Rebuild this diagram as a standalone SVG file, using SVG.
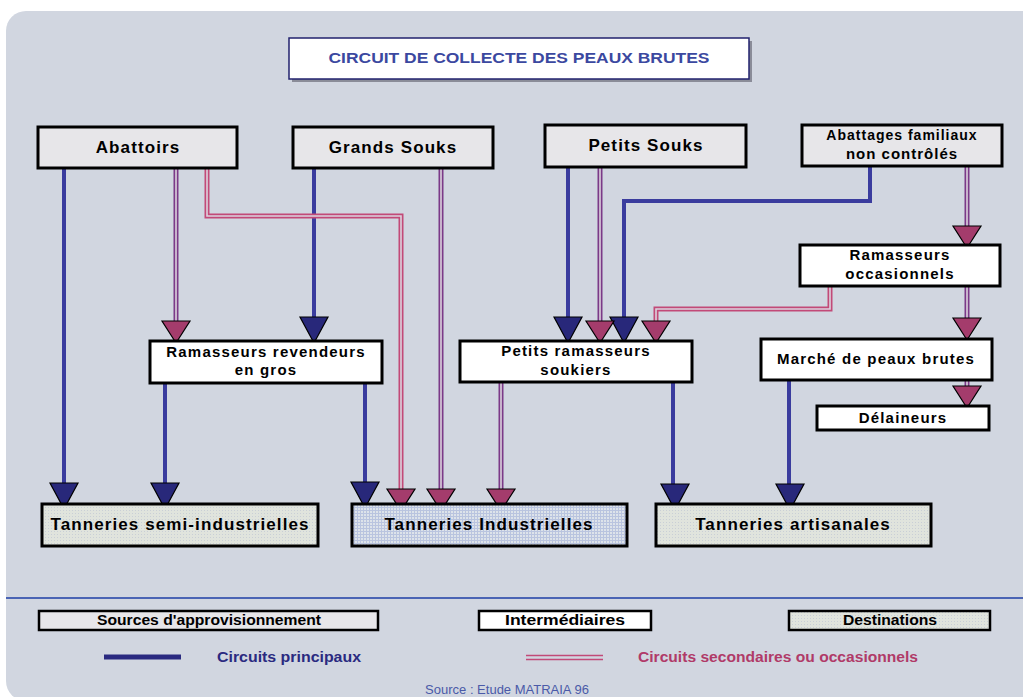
<svg xmlns="http://www.w3.org/2000/svg" width="1023" height="697" viewBox="0 0 1023 697">
<style>
.src{fill:#e7e6e9;stroke:#000;stroke-width:3}
.mid{fill:#fff;stroke:#000;stroke-width:3}
.dst{stroke:#000;stroke-width:3}
.t{font-family:"Liberation Sans",Arial,sans-serif;font-weight:bold;fill:#000;text-anchor:middle}
.big{font-size:17px;letter-spacing:1.1px}
.med{font-size:15px;letter-spacing:1.2px}
.blue{fill:none;stroke:#3a3c9e;stroke-width:4}
.dbl-o{fill:none;stroke-width:5;stroke-linejoin:miter}
.purple{stroke:#7b3a88}
.pink{stroke:#c24a78}
.dbl-i{fill:none;stroke:#dcd3de;stroke-width:1.6;stroke-linejoin:miter}
.ab{fill:#28287a;stroke:#000;stroke-width:1.2}
.ap{fill:#a43c6c;stroke:#000;stroke-width:1.2}
.leg{font-family:"Liberation Sans",Arial,sans-serif;font-weight:bold;font-size:14px;text-anchor:middle}
</style>
<defs>
<pattern id="dots" width="3" height="3" patternUnits="userSpaceOnUse">
<rect width="3" height="3" fill="#e0e4dd"/>
<rect width="1" height="1" fill="#c9cfd6"/>
</pattern>
<pattern id="grid" width="3" height="3" patternUnits="userSpaceOnUse">
<rect width="3" height="3" fill="#dde3ea"/>
<rect width="3" height="1" fill="#b9c4df"/>
<rect width="1" height="3" fill="#b9c4df"/>
</pattern>
<polygon id="ahb" points="-14,-26 14,-26 0,0"/>
<polygon id="ahp" points="-14,-22 14,-22 0,0"/>
</defs>

<rect x="6" y="11" width="1040" height="690" rx="20" fill="#d1d6e0"/>

<g id="title">
<rect x="292" y="41" width="460" height="41" fill="#8a8c98"/>
<rect x="289" y="38" width="460" height="41" fill="#fff" stroke="#22226e" stroke-width="1.5"/>
<text x="519" y="63" font-family="Liberation Sans,Arial,sans-serif" font-weight="bold" font-size="14" fill="#3b48a0" text-anchor="middle" textLength="381" lengthAdjust="spacingAndGlyphs">CIRCUIT DE COLLECTE DES PEAUX BRUTES</text>
</g>

<g id="connectors">
<path class="blue" d="M64,168 V484"/>
<path class="blue" d="M314,168 V318"/>
<path class="blue" d="M165,383 V484"/>
<path class="blue" d="M365,383 V483"/>
<path class="blue" d="M568,168 V318"/>
<path class="blue" d="M870,166 V201 H624 V318"/>
<path class="blue" d="M673,382 V485"/>
<path class="blue" d="M789,380 V485"/>
<path class="dbl-o purple" d="M176,168 V321"/><path class="dbl-i" d="M176,168 V321"/>
<path class="dbl-o pink" d="M207,168 V216 H401 V489"/><path class="dbl-i" d="M207,168 V216 H401 V489"/>
<path class="dbl-o purple" d="M441,168 V489"/><path class="dbl-i" d="M441,168 V489"/>
<path class="dbl-o purple" d="M501,382 V489"/><path class="dbl-i" d="M501,382 V489"/>
<path class="dbl-o purple" d="M600,168 V321"/><path class="dbl-i" d="M600,168 V321"/>
<path class="dbl-o pink" d="M830,286 V309 H656 V321"/><path class="dbl-i" d="M830,286 V309 H656 V321"/>
<path class="dbl-o purple" d="M967,166 V226"/><path class="dbl-i" d="M967,166 V226"/>
<path class="dbl-o purple" d="M967,286 V318"/><path class="dbl-i" d="M967,286 V318"/>
<path class="dbl-o purple" d="M967,380 V386"/><path class="dbl-i" d="M967,380 V386"/>
<use href="#ahb" class="ab" x="64" y="509"/>
<use href="#ahb" class="ab" x="314" y="343"/>
<use href="#ahb" class="ab" x="165" y="509"/>
<use href="#ahb" class="ab" x="365" y="508"/>
<use href="#ahb" class="ab" x="568" y="343"/>
<use href="#ahb" class="ab" x="624" y="343"/>
<use href="#ahb" class="ab" x="675" y="510"/>
<use href="#ahb" class="ab" x="790" y="510"/>
<use href="#ahp" class="ap" x="176" y="343"/>
<use href="#ahp" class="ap" x="401" y="511"/>
<use href="#ahp" class="ap" x="441" y="511"/>
<use href="#ahp" class="ap" x="501" y="511"/>
<use href="#ahp" class="ap" x="600" y="343"/>
<use href="#ahp" class="ap" x="656" y="343"/>
<use href="#ahp" class="ap" x="967" y="248"/>
<use href="#ahp" class="ap" x="967" y="340"/>
<use href="#ahp" class="ap" x="967" y="408"/>
</g>

<g id="abattoirs"><rect class="src" x="38" y="127" width="199" height="41"/><text class="t big" x="138" y="153">Abattoirs</text></g>
<g id="grands-souks"><rect class="src" x="293" y="127" width="200" height="41"/><text class="t big" x="393" y="153">Grands Souks</text></g>
<g id="petits-souks"><rect class="src" x="545" y="125" width="201" height="42"/><text class="t big" x="646" y="151">Petits Souks</text></g>
<g id="abattages"><rect class="src" x="802" y="125" width="200" height="41"/><text class="t" style="font-size:14px;letter-spacing:1px" x="902" y="140">Abattages familiaux</text><text class="t" style="font-size:15px;letter-spacing:1px" x="902" y="159">non contrôlés</text></g>

<g id="ramasseurs-gros"><rect class="mid" x="150" y="341" width="232" height="42"/><text class="t med" x="266" y="357">Ramasseurs revendeurs</text><text class="t med" x="266" y="375">en gros</text></g>
<g id="petits-ramasseurs"><rect class="mid" x="460" y="341" width="232" height="41"/><text class="t med" x="576" y="356">Petits ramasseurs</text><text class="t med" x="576" y="375">soukiers</text></g>
<g id="ramasseurs-occ"><rect class="mid" x="800" y="245" width="200" height="41"/><text class="t med" x="900" y="260">Ramasseurs</text><text class="t med" x="900" y="279">occasionnels</text></g>
<g id="marche"><rect class="mid" x="761" y="339" width="231" height="41"/><text class="t med" x="876" y="364">Marché de peaux brutes</text></g>
<g id="delaineurs"><rect class="mid" x="817" y="406" width="172" height="24"/><text class="t med" x="903" y="423">Délaineurs</text></g>

<g id="tanneries-semi"><rect class="dst" fill="url(#dots)" x="42" y="504" width="276" height="42"/><text class="t big" x="180" y="530">Tanneries semi-industrielles</text></g>
<g id="tanneries-ind"><rect class="dst" fill="url(#grid)" x="352" y="504" width="275" height="42"/><text class="t big" x="489" y="530">Tanneries Industrielles</text></g>
<g id="tanneries-art"><rect class="dst" fill="url(#dots)" x="656" y="504" width="275" height="42"/><text class="t big" x="793" y="530">Tanneries artisanales</text></g>

<g id="legend">
<line x1="6" y1="598" x2="1023" y2="598" stroke="#4a64b4" stroke-width="2"/>
<rect x="39" y="611" width="339" height="19" fill="#e7e6e9" stroke="#000" stroke-width="2.5"/>
<text class="leg" x="209" y="625" textLength="224" lengthAdjust="spacingAndGlyphs">Sources d'approvisionnement</text>
<rect x="479" y="611" width="172" height="19" fill="#fff" stroke="#000" stroke-width="2.5"/>
<text class="leg" x="565" y="625" textLength="120" lengthAdjust="spacingAndGlyphs">Intermédiaires</text>
<rect x="789" y="611" width="201" height="19" fill="url(#dots)" stroke="#000" stroke-width="2.5"/>
<text class="leg" x="890" y="625" textLength="94" lengthAdjust="spacingAndGlyphs">Destinations</text>
<line x1="104" y1="657" x2="181" y2="657" stroke="#2a2a80" stroke-width="5"/>
<text class="leg" x="289" y="662" fill="#2a2a80" textLength="144" lengthAdjust="spacingAndGlyphs">Circuits principaux</text>
<line x1="526" y1="655.5" x2="603" y2="655.5" stroke="#c24a78" stroke-width="1.6"/>
<line x1="526" y1="659.5" x2="603" y2="659.5" stroke="#c24a78" stroke-width="1.6"/>
<text class="leg" x="778" y="662" fill="#b03a68" textLength="280" lengthAdjust="spacingAndGlyphs">Circuits secondaires ou occasionnels</text>
<text x="507" y="694" font-family="Liberation Sans,Arial,sans-serif" font-size="13" fill="#4a5aa8" text-anchor="middle">Source : Etude MATRAIA 96</text>
</g>
</svg>
